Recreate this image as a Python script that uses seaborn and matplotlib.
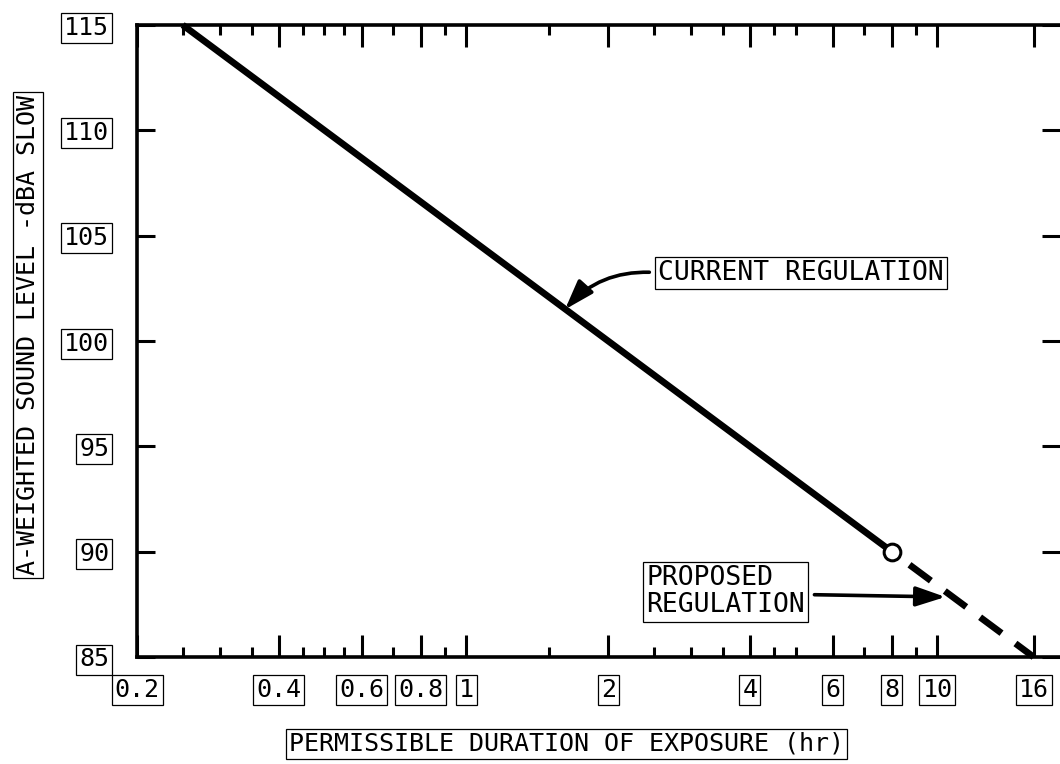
import matplotlib
matplotlib.use("Agg")
import matplotlib.pyplot as plt
import seaborn as sns
import pandas as pd

# exposure limits (hours vs dBA)
current_hours = [0.25, 0.5, 1, 2, 4, 8]
current_dba = [115, 110, 105, 100, 95, 90]
proposed_hours = [8, 16]
proposed_dba = [90, 85]

x_ticks = [0.2, 0.4, 0.6, 0.8, 1, 2, 4, 6, 8, 10, 16]
x_tick_labels = ["0.2", "0.4", "0.6", "0.8", "1", "2", "4", "6", "8", "10", "16"]
x_minor = [0.25, 0.3, 0.35, 0.45, 0.5, 0.55, 0.7, 0.9, 1.5, 2.5, 3, 3.5, 4.5, 5, 7, 9]
y_ticks = [85, 90, 95, 100, 105, 110, 115]

current_arrow_at = (1.62, 101.5)
proposed_arrow_at = (10.4, 87.85)

sns.set_style("ticks")
plt.rcParams["font.family"] = ["DejaVu Sans Mono", "DejaVu Sans"]
for key in ["axes.edgecolor", "text.color", "xtick.color", "ytick.color",
            "axes.labelcolor"]:
    plt.rcParams[key] = "black"

fig = plt.figure(figsize=(10.6, 7.64), dpi=100)
ax = fig.add_axes([137 / 1060, 107 / 764, 923 / 1060, 632 / 764])

cur = pd.DataFrame({"hours": current_hours, "dba": current_dba})
prop = pd.DataFrame({"hours": proposed_hours, "dba": proposed_dba})

sns.lineplot(data=cur, x="hours", y="dba", ax=ax, color="black", lw=4.8,
             solid_capstyle="butt", clip_on=False)
sns.lineplot(data=prop, x="hours", y="dba", ax=ax, color="black", lw=4.8,
             dashes=False, clip_on=False)
ax.lines[-1].set_linestyle((3.3, (4, 2.6)))
ax.lines[-1].set_dash_capstyle("butt")
ax.plot([current_hours[-1]], [current_dba[-1]], "o", ms=12, mfc="white",
        mec="black", mew=2.2, zorder=5)

ax.set_xscale("log")
ax.set_xlim(0.2, 18.2)
ax.set_ylim(85, 115)

box = dict(boxstyle="square,pad=0.12", fc="white", ec="black", lw=0.9)

ax.set_xticks(x_ticks)
ax.set_xticklabels(x_tick_labels)
ax.set_xticks(x_minor, minor=True)
ax.set_yticks(y_ticks)
ax.tick_params(axis="x", which="major", direction="in", length=16, width=2.2,
               top=True, labelsize=18, pad=15)
ax.tick_params(axis="x", which="minor", direction="in", length=7, width=2.2,
               top=True, labelbottom=False)
ax.tick_params(axis="y", which="major", direction="in", length=13, width=2.2,
               right=True, labelsize=18, pad=20)
for lab in ax.get_xticklabels() + ax.get_yticklabels():
    lab.set_bbox(box)

for side in ["left", "bottom", "top"]:
    ax.spines[side].set_linewidth(2.6)
ax.spines["right"].set_visible(False)

ax.set_xlabel("PERMISSIBLE DURATION OF EXPOSURE (hr)", fontsize=18, bbox=box)
ax.set_ylabel("A-WEIGHTED SOUND LEVEL -dBA SLOW", fontsize=18, bbox=box)
ax.xaxis.set_label_coords(0.465, -0.118)
ax.yaxis.set_label_coords(-0.105, 0.51)

arrow = dict(arrowstyle="-|>,head_length=0.9,head_width=0.3",
             mutation_scale=20, lw=2.6, color="black", shrinkA=4, shrinkB=0)

ax.annotate("CURRENT REGULATION", xy=current_arrow_at, xycoords="data",
            xytext=(0.565, 0.608), textcoords="axes fraction",
            fontsize=19, ha="left", va="center", bbox=box,
            arrowprops=dict(arrow, relpos=(0, 0.5),
                            connectionstyle="arc3,rad=0.25"))
ax.annotate("PROPOSED\nREGULATION", xy=proposed_arrow_at, xycoords="data",
            xytext=(0.552, 0.103), textcoords="axes fraction",
            fontsize=19, ha="left", va="center", linespacing=1.05, bbox=box,
            arrowprops=dict(arrow, relpos=(1, 0.45)))

fig.savefig("out.png", dpi=100)
